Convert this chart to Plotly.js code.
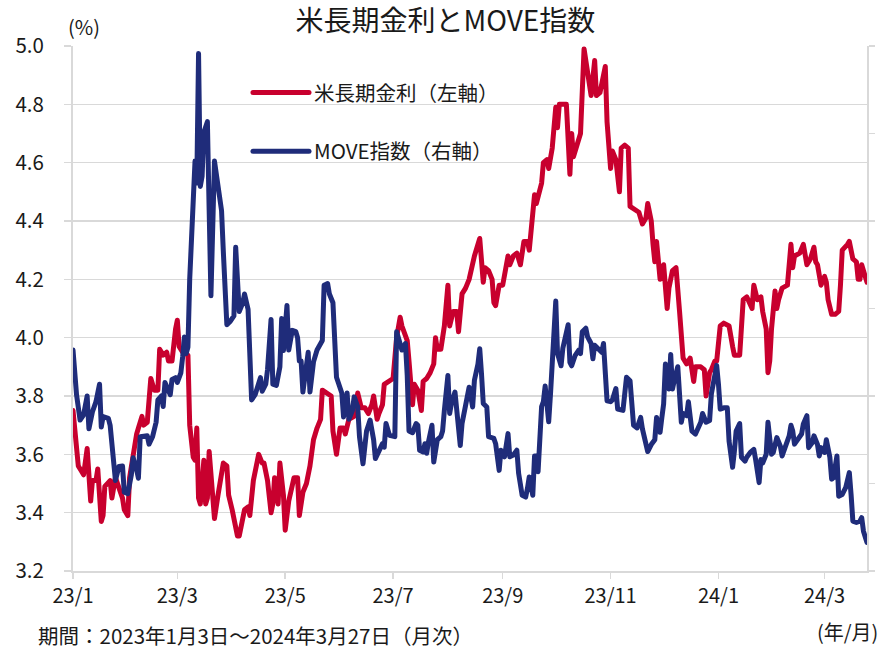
<!DOCTYPE html>
<html><head><meta charset="utf-8">
<script src="https://cdn.plot.ly/plotly-3.0.1.min.js"></script>
<style>html,body{margin:0;padding:0;background:#fff}#chart{width:882px;height:652px}
.js-line{stroke-linejoin:round;stroke-linecap:round}</style>
</head><body><div id="chart"></div>
<script>
const yieldDates = ['2023-01-03','2023-01-04','2023-01-06','2023-01-08','2023-01-09','2023-01-11','2023-01-13','2023-01-14','2023-01-16','2023-01-17','2023-01-19','2023-01-20','2023-01-21','2023-01-24','2023-01-25','2023-01-27','2023-01-28','2023-01-31',
'2023-02-01','2023-02-03','2023-02-04','2023-02-06','2023-02-08','2023-02-09','2023-02-11','2023-02-12','2023-02-14','2023-02-16','2023-02-18','2023-02-20','2023-02-21','2023-02-23','2023-02-25','2023-02-26','2023-02-28',
'2023-03-02','2023-03-03','2023-03-04','2023-03-06','2023-03-09','2023-03-10','2023-03-12','2023-03-13','2023-03-14','2023-03-15','2023-03-16','2023-03-18','2023-03-19','2023-03-20','2023-03-21','2023-03-23','2023-03-24','2023-03-26','2023-03-29','2023-03-31',
'2023-04-01','2023-04-03','2023-04-06','2023-04-07','2023-04-09','2023-04-10','2023-04-12','2023-04-13','2023-04-15','2023-04-17','2023-04-18','2023-04-20','2023-04-21','2023-04-23','2023-04-25','2023-04-26','2023-04-27','2023-04-29','2023-04-30',
'2023-05-02','2023-05-03','2023-05-05','2023-05-08','2023-05-10','2023-05-11','2023-05-13','2023-05-15','2023-05-17','2023-05-19','2023-05-21','2023-05-23','2023-05-24','2023-05-26','2023-05-29','2023-05-30',
'2023-06-01','2023-06-03','2023-06-05','2023-06-06','2023-06-08','2023-06-11','2023-06-13','2023-06-15','2023-06-17','2023-06-19','2023-06-21','2023-06-22','2023-06-24','2023-06-25','2023-06-27','2023-06-28','2023-06-30',
'2023-07-03','2023-07-05','2023-07-07','2023-07-08','2023-07-11','2023-07-12','2023-07-13','2023-07-14','2023-07-15','2023-07-17','2023-07-19','2023-07-20','2023-07-22','2023-07-24','2023-07-26','2023-07-27','2023-07-28','2023-07-30',
'2023-08-01','2023-08-03','2023-08-04','2023-08-06','2023-08-08','2023-08-09','2023-08-11','2023-08-13','2023-08-15','2023-08-17','2023-08-18','2023-08-21','2023-08-23','2023-08-24','2023-08-26','2023-08-28','2023-08-29','2023-08-30',
'2023-09-01','2023-09-03','2023-09-06','2023-09-07','2023-09-09','2023-09-11','2023-09-13','2023-09-15','2023-09-17','2023-09-18','2023-09-20','2023-09-21','2023-09-22','2023-09-24','2023-09-25','2023-09-26','2023-09-28','2023-09-29',
'2023-10-01','2023-10-03','2023-10-04','2023-10-05','2023-10-08','2023-10-09','2023-10-11','2023-10-12','2023-10-13','2023-10-15','2023-10-17','2023-10-19','2023-10-21','2023-10-22','2023-10-23','2023-10-25','2023-10-26','2023-10-28','2023-10-30','2023-10-31',
'2023-11-01','2023-11-03','2023-11-04','2023-11-06','2023-11-08','2023-11-09','2023-11-11','2023-11-13','2023-11-14','2023-11-16','2023-11-19','2023-11-21','2023-11-23','2023-11-24','2023-11-26','2023-11-27','2023-11-28','2023-11-29',
'2023-12-01','2023-12-02','2023-12-03','2023-12-05','2023-12-06','2023-12-08','2023-12-10','2023-12-12','2023-12-14','2023-12-16','2023-12-18','2023-12-20','2023-12-21','2023-12-24','2023-12-26','2023-12-27','2023-12-29','2023-12-30',
'2024-01-01','2024-01-02','2024-01-04','2024-01-06','2024-01-09','2024-01-11','2024-01-12','2024-01-15','2024-01-16','2024-01-17','2024-01-19','2024-01-21','2024-01-22','2024-01-23','2024-01-25','2024-01-27','2024-01-28','2024-01-30','2024-01-31',
'2024-02-01','2024-02-02','2024-02-04','2024-02-05','2024-02-06','2024-02-08','2024-02-11','2024-02-13','2024-02-14','2024-02-15','2024-02-18','2024-02-20','2024-02-22','2024-02-24','2024-02-26','2024-02-27','2024-02-28',
'2024-03-01','2024-03-03','2024-03-04','2024-03-05','2024-03-07','2024-03-09','2024-03-11','2024-03-12','2024-03-13','2024-03-16','2024-03-17','2024-03-19','2024-03-21','2024-03-22','2024-03-23','2024-03-24','2024-03-25','2024-03-27'];
const yieldValues = [3.75,3.68,3.56,3.54,3.53,3.62,3.44,3.51,3.51,3.55,3.37,3.39,3.49,3.51,3.45,3.52,3.50,3.45,
3.41,3.39,3.52,3.60,3.67,3.69,3.73,3.70,3.71,3.86,3.82,3.82,3.96,3.94,3.95,3.92,3.92,
4.03,4.06,3.97,3.95,3.94,3.70,3.59,3.58,3.69,3.45,3.43,3.58,3.43,3.45,3.61,3.43,3.38,3.46,3.57,3.56,
3.46,3.41,3.32,3.32,3.39,3.41,3.42,3.39,3.51,3.58,3.60,3.57,3.57,3.51,3.40,3.43,3.52,3.43,3.57,
3.46,3.34,3.44,3.52,3.52,3.39,3.47,3.50,3.56,3.65,3.69,3.72,3.82,3.81,3.80,3.68,
3.60,3.69,3.69,3.67,3.72,3.73,3.81,3.76,3.76,3.74,3.77,3.80,3.72,3.74,3.77,3.84,3.85,
3.86,4.00,4.07,4.04,3.99,3.92,3.82,3.77,3.84,3.82,3.75,3.85,3.86,3.88,3.91,4.00,3.96,3.96,
4.04,4.18,4.04,4.09,4.09,4.02,4.15,4.17,4.20,4.26,4.28,4.34,4.19,4.24,4.23,4.20,4.12,4.11,
4.18,4.18,4.28,4.25,4.28,4.29,4.25,4.33,4.33,4.30,4.41,4.49,4.46,4.52,4.53,4.60,4.61,4.58,
4.65,4.79,4.72,4.80,4.80,4.80,4.56,4.70,4.62,4.66,4.70,4.99,4.92,4.87,4.83,4.95,4.83,4.84,4.89,4.93,
4.74,4.58,4.64,4.61,4.50,4.65,4.66,4.65,4.45,4.44,4.43,4.39,4.41,4.46,4.40,4.32,4.26,4.33,
4.20,4.23,4.25,4.10,4.17,4.23,4.24,4.09,3.93,3.91,3.93,3.85,3.90,3.90,3.89,3.80,3.88,3.89,
3.92,3.92,4.04,4.05,4.04,3.97,3.94,3.94,4.06,4.13,4.14,4.11,4.10,4.18,4.13,4.14,4.09,4.03,3.88,
3.92,4.03,4.16,4.10,4.13,4.17,4.18,4.32,4.24,4.28,4.29,4.32,4.25,4.27,4.31,4.26,4.25,
4.18,4.21,4.19,4.13,4.08,4.08,4.09,4.18,4.30,4.32,4.33,4.27,4.26,4.20,4.20,4.25,4.23,4.19];

const moveDates = ['2023-01-03','2023-01-05','2023-01-07','2023-01-09','2023-01-11','2023-01-12','2023-01-14','2023-01-16','2023-01-18','2023-01-19','2023-01-20','2023-01-23','2023-01-24','2023-01-26','2023-01-27','2023-01-29','2023-01-31',
'2023-02-01','2023-02-03','2023-02-05','2023-02-06','2023-02-08','2023-02-09','2023-02-10','2023-02-12','2023-02-14','2023-02-15','2023-02-17','2023-02-19','2023-02-20','2023-02-22','2023-02-23','2023-02-24','2023-02-26','2023-02-27','2023-02-28',
'2023-03-02','2023-03-03','2023-03-05','2023-03-06','2023-03-07','2023-03-08','2023-03-09','2023-03-10','2023-03-12','2023-03-13','2023-03-14','2023-03-15','2023-03-16','2023-03-17','2023-03-18','2023-03-20','2023-03-21','2023-03-22','2023-03-24','2023-03-26','2023-03-28','2023-03-29','2023-03-31',
'2023-04-02','2023-04-04','2023-04-05','2023-04-06','2023-04-07','2023-04-09','2023-04-10','2023-04-12','2023-04-13','2023-04-14','2023-04-16','2023-04-18','2023-04-19','2023-04-20','2023-04-22','2023-04-23','2023-04-25','2023-04-26','2023-04-28','2023-04-30',
'2023-05-01','2023-05-02','2023-05-04','2023-05-05','2023-05-07','2023-05-09','2023-05-10','2023-05-11','2023-05-12','2023-05-13','2023-05-14','2023-05-16','2023-05-17','2023-05-19','2023-05-21','2023-05-23','2023-05-24','2023-05-25','2023-05-27','2023-05-28','2023-05-30',
'2023-06-01','2023-06-03','2023-06-04','2023-06-05','2023-06-07','2023-06-08','2023-06-10','2023-06-11','2023-06-13','2023-06-14','2023-06-16','2023-06-17','2023-06-18','2023-06-20','2023-06-22','2023-06-23','2023-06-25','2023-06-27','2023-06-28','2023-06-29',
'2023-07-01','2023-07-04','2023-07-05','2023-07-07','2023-07-08','2023-07-10','2023-07-11','2023-07-12','2023-07-14','2023-07-16','2023-07-17','2023-07-18','2023-07-20','2023-07-21','2023-07-22','2023-07-23','2023-07-25','2023-07-26','2023-07-28','2023-07-30','2023-07-31',
'2023-08-01','2023-08-03','2023-08-04','2023-08-05','2023-08-07','2023-08-08','2023-08-10','2023-08-11','2023-08-13','2023-08-15','2023-08-17','2023-08-18','2023-08-20','2023-08-21','2023-08-22','2023-08-23','2023-08-25','2023-08-26','2023-08-29','2023-08-30',
'2023-09-01','2023-09-02','2023-09-04','2023-09-06','2023-09-07','2023-09-09','2023-09-11','2023-09-12','2023-09-14','2023-09-16','2023-09-17','2023-09-18','2023-09-20','2023-09-21','2023-09-22','2023-09-23','2023-09-25','2023-09-26','2023-09-27','2023-09-29','2023-09-30',
'2023-10-01','2023-10-03','2023-10-04','2023-10-06','2023-10-07','2023-10-08','2023-10-10','2023-10-11','2023-10-12','2023-10-14','2023-10-16','2023-10-17','2023-10-18','2023-10-20','2023-10-21','2023-10-23','2023-10-24','2023-10-25','2023-10-27','2023-10-29','2023-10-30','2023-10-31',
'2023-11-01','2023-11-03','2023-11-04','2023-11-06','2023-11-07','2023-11-10','2023-11-12','2023-11-14','2023-11-16','2023-11-18','2023-11-20','2023-11-21','2023-11-24','2023-11-26','2023-11-28','2023-11-29',
'2023-12-01','2023-12-02','2023-12-03','2023-12-04','2023-12-06','2023-12-07','2023-12-08','2023-12-09','2023-12-11','2023-12-13','2023-12-14','2023-12-16','2023-12-17','2023-12-19','2023-12-21','2023-12-24','2023-12-25','2023-12-27','2023-12-29','2023-12-30',
'2024-01-01','2024-01-02','2024-01-03','2024-01-04','2024-01-06','2024-01-08','2024-01-09','2024-01-11','2024-01-12','2024-01-13','2024-01-15','2024-01-16','2024-01-18','2024-01-19','2024-01-21','2024-01-23','2024-01-24','2024-01-26','2024-01-27','2024-01-28','2024-01-30','2024-01-31',
'2024-02-02','2024-02-03','2024-02-05','2024-02-07','2024-02-08','2024-02-10','2024-02-12','2024-02-13','2024-02-14','2024-02-15','2024-02-17','2024-02-19','2024-02-20','2024-02-22','2024-02-23','2024-02-25','2024-02-26','2024-02-28','2024-02-29',
'2024-03-01','2024-03-03','2024-03-04','2024-03-06','2024-03-07','2024-03-08','2024-03-10','2024-03-11','2024-03-13','2024-03-15','2024-03-17','2024-03-18','2024-03-19','2024-03-21','2024-03-23','2024-03-24','2024-03-25','2024-03-27'];
const moveValues = [130.5,120.3,114.5,115.7,120.0,112.5,116.4,118.7,122.7,112.9,115.3,114.9,113.3,106.3,100.7,103.9,104.0,
98.0,97.7,102.0,105.9,103.1,101.2,110.7,110.9,110.9,109.0,110.7,114.0,119.1,120.0,117.6,123.1,121.5,120.3,123.8,
124.2,123.1,125.3,128.9,133.5,129.7,131.2,146.7,162.4,173.7,168.7,198.3,167.9,170.2,180.3,182.7,162.4,142.9,173.7,167.9,162.4,153.1,136.3,
137.1,138.3,154.0,147.6,139.3,141.3,143.3,139.8,126.5,119.1,120.3,123.1,124.2,121.1,122.7,126.0,137.5,122.7,122.4,126.7,
137.7,130.4,140.7,130.5,135.0,134.7,133.3,128.0,128.0,120.9,124.4,130.0,120.9,127.8,130.5,132.3,132.7,145.3,145.7,143.3,141.3,
124.3,121.3,120.7,115.2,120.7,114.7,116.7,119.8,117.5,110.7,104.5,108.3,112.0,114.5,110.0,105.7,107.6,109.1,108.3,113.7,
111.0,110.7,134.7,132.0,130.5,132.0,124.7,112.0,111.6,113.7,113.3,107.6,107.2,109.1,106.9,109.5,113.3,104.9,110.0,110.7,112.0,
116.7,124.7,116.0,118.3,120.9,116.7,108.7,113.7,118.7,122.0,117.5,123.6,127.3,130.8,125.1,118.3,117.5,110.7,110.3,109.1,
103.0,107.6,106.1,111.4,106.1,106.5,107.6,102.3,97.3,96.9,98.9,101.5,97.3,106.3,106.3,102.7,117.6,118.7,122.3,114.1,120.3,
128.5,141.7,129.7,126.9,130.9,132.7,136.3,127.7,126.9,129.3,130.5,129.7,134.7,135.5,133.5,132.0,128.5,131.6,130.9,130.0,132.0,126.5,
118.9,118.7,119.1,121.7,117.0,116.7,124.3,123.5,113.3,112.7,115.1,112.5,107.3,108.9,110.0,115.1,
111.7,115.1,118.2,127.3,121.6,129.5,121.6,123.5,126.7,114.0,116.0,115.5,118.7,112.0,111.3,114.0,116.0,114.0,114.4,120.5,
125.1,127.0,122.7,117.0,117.3,117.3,109.7,103.7,107.3,112.0,113.7,106.0,105.1,106.0,107.1,107.8,105.5,100.2,105.5,104.7,106.7,114.0,
106.7,107.1,110.5,108.5,106.3,108.5,110.9,113.3,112.0,109.0,110.0,111.3,113.6,115.5,108.2,109.3,110.9,108.9,106.3,
108.2,107.1,110.0,106.0,101.0,101.3,106.3,97.1,97.5,99.1,102.5,97.5,91.4,91.1,91.4,92.2,89.1,86.5];

const tickDates = ['2023-01-03','2023-03-03','2023-05-03','2023-07-03','2023-09-03','2023-11-03','2024-01-03','2024-03-03'];
const tickLabels = ['23/1','23/3','23/5','23/7','23/9','23/11','24/1','24/3'];
const seriesNames = ['米長期金利（左軸）','MOVE指数（右軸）'];

const FONT = 'Noto Sans CJK JP, Noto Sans, sans-serif';
const TXT = '#1a1a1a';
const GRID = '#d9d9d9';

const traces = [
  {x: yieldDates, y: yieldValues, name: seriesNames[0], type: 'scatter', mode: 'lines',
   line: {color: '#C8002E', width: 5}, yaxis: 'y', legendgroup: 'a', hoverinfo: 'x+y'},
  {x: moveDates, y: moveValues, name: seriesNames[1], type: 'scatter', mode: 'lines',
   line: {color: '#1F2C7A', width: 5}, yaxis: 'y2', legendgroup: 'b', hoverinfo: 'x+y'}
];

const layout = {
  width: 882, height: 652,
  margin: {l: 73, r: 15, t: 46, b: 81},
  paper_bgcolor: '#fff', plot_bgcolor: '#fff',
  font: {family: FONT, color: TXT, size: 20},
  title: {text: '米長期金利とMOVE指数', font: {family: FONT, size: 28, color: TXT},
          x: 0.505, xref: 'container', xanchor: 'center', y: 0.968, yref: 'container', yanchor: 'middle'},
  showlegend: true,
  legend: {x: 0.2204, xanchor: 'left', y: 0.949, yanchor: 'top', font: {family: FONT, size: 20.5, color: TXT},
           bgcolor: 'rgba(0,0,0,0)', tracegroupgap: 29, itemwidth: 56, traceorder: 'grouped'},
  xaxis: {type: 'date', range: ['2023-01-03', '2024-03-27'], tickmode: 'array',
          tickvals: tickDates, ticktext: tickLabels, ticks: 'outside', ticklen: 6, tickwidth: 1.5,
          tickcolor: GRID, showline: true, linecolor: GRID, linewidth: 2, showgrid: false, zeroline: false,
          tickfont: {family: FONT, size: 20, color: TXT}},
  yaxis: {range: [3.2, 5.0], dtick: 0.2, tick0: 3.2, tickformat: '.1f', showgrid: true, gridcolor: GRID, gridwidth: 1.5,
          showline: true, linecolor: GRID, linewidth: 2, ticks: 'outside', ticklen: 7, tickwidth: 1.5, tickcolor: GRID,
          zeroline: false, ticklabelstandoff: 16, tickfont: {family: FONT, size: 20.5, color: TXT}},
  yaxis2: {range: [80, 200], dtick: 20, tick0: 80, overlaying: 'y', side: 'right', showgrid: false, zeroline: false,
           showline: true, linecolor: GRID, linewidth: 2, ticks: 'outside', ticklen: 6, tickwidth: 1.5, tickcolor: GRID,
           showticklabels: false},
  annotations: [
    {text: '(%)', xref: 'paper', yref: 'paper', x: 0.014, y: 1.038, xanchor: 'center', yanchor: 'middle',
     showarrow: false, font: {family: FONT, size: 20, color: TXT}},
    {text: '期間：2023年1月3日～2024年3月27日（月次）', xref: 'paper', yref: 'paper', x: -0.046, y: -0.1225,
     xanchor: 'left', yanchor: 'middle', showarrow: false, font: {family: FONT, size: 20.5, color: TXT}},
    {text: '(年/月)', xref: 'paper', yref: 'paper', x: 1.016, y: -0.116, xanchor: 'right', yanchor: 'middle',
     showarrow: false, font: {family: FONT, size: 20, color: TXT}}
  ]
};

Plotly.newPlot('chart', traces, layout, {displayModeBar: false, staticPlot: true});
</script>
</body></html>
